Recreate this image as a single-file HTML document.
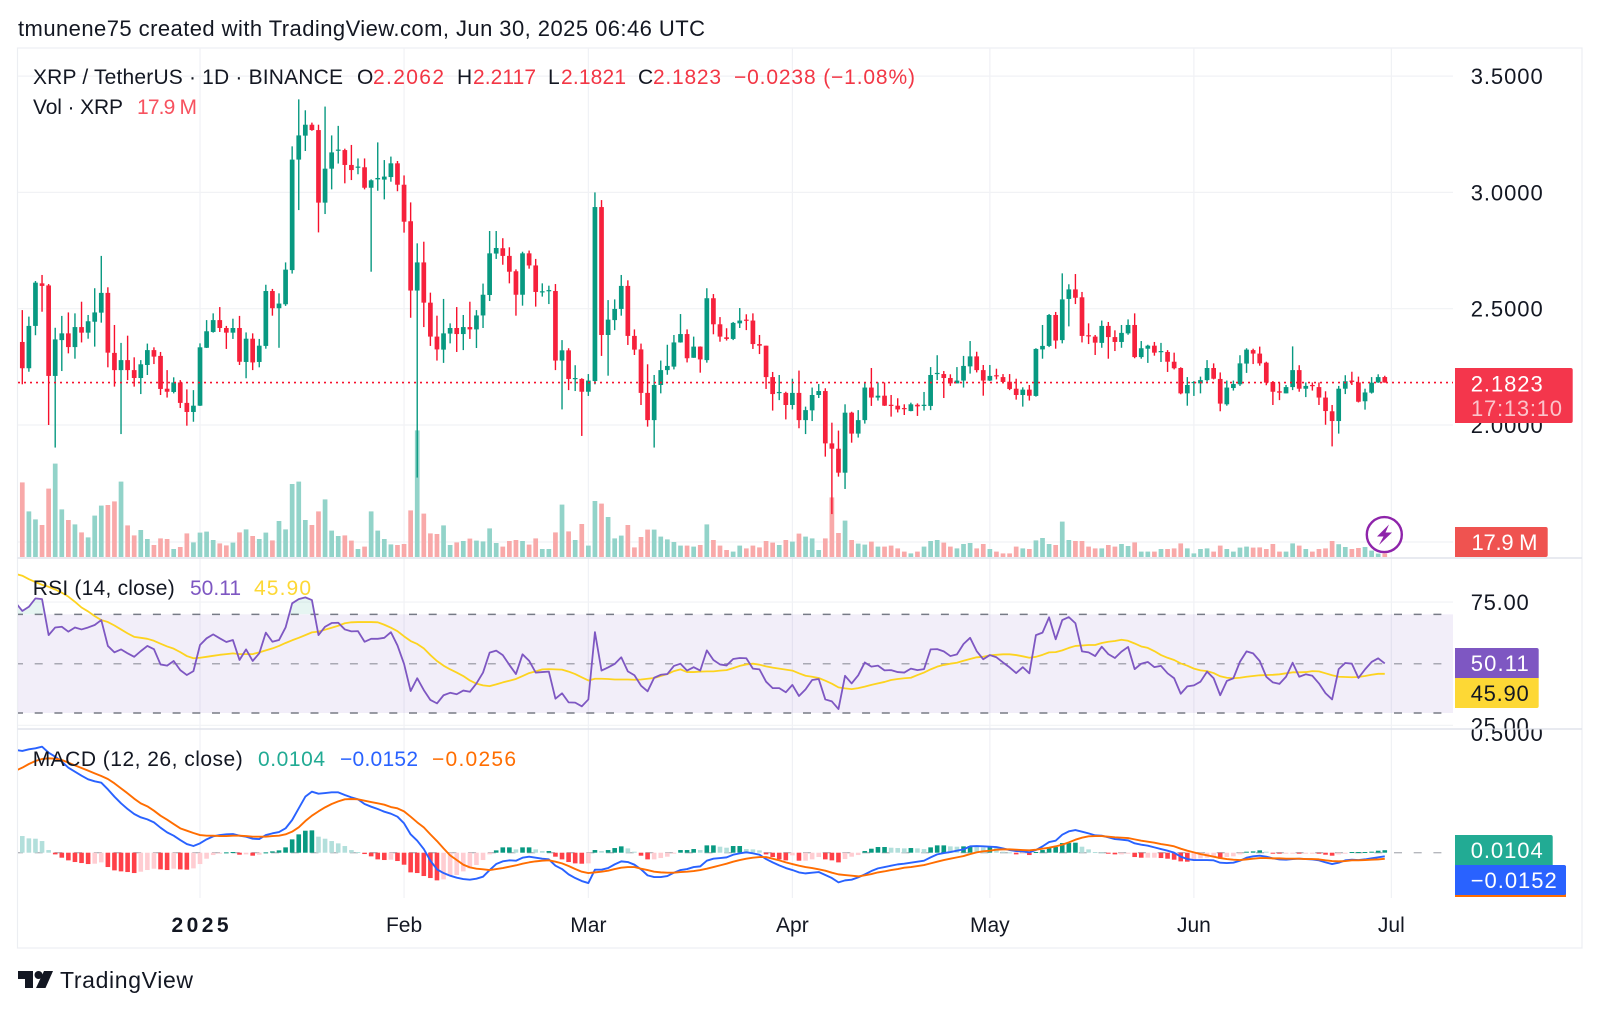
<!DOCTYPE html>
<html lang="en">
<head>
<meta charset="utf-8">
<title>XRP / TetherUS chart</title>
<style>
html,body{margin:0;padding:0;background:#fff;width:1600px;height:1011px;overflow:hidden}
svg{display:block}
text{font-family:"Liberation Sans",sans-serif;font-size:21px;fill:#131722}
.axis{font-size:22px}
.up{fill:#089981}
.down{fill:#f23645}
</style>
</head>
<body>
<svg id="chart" xmlns="http://www.w3.org/2000/svg" width="1600" height="1011" viewBox="0 0 1600 1011">
  <defs>
    <clipPath id="plotClip"><rect x="18" y="48" width="1435" height="850"/></clipPath>
    <clipPath id="overClip"><rect x="18" y="558" width="1435" height="56.3"/></clipPath>
    <clipPath id="rsiAxisClip"><rect x="1453" y="559" width="129" height="169.5"/></clipPath>
    <clipPath id="macdAxisClip"><rect x="1453" y="729.5" width="129" height="168"/></clipPath>
  </defs>
  <text x="18" y="36" textLength="687" lengthAdjust="spacing" style="font-size:22px">tmunene75 created with TradingView.com, Jun 30, 2025 06:46 UTC</text>
  <rect x="17.5" y="48" width="1564.5" height="900" fill="none" stroke="#eceef2" stroke-width="1.2"/>
  <g id="gridLayer"></g>
  <g id="bandLayer"></g>
  <g id="volumeLayer" clip-path="url(#plotClip)"></g>
  <g id="candleLayer" clip-path="url(#plotClip)"></g>
  <g id="rsiLayer" clip-path="url(#plotClip)"></g>
  <g id="macdLayer" clip-path="url(#plotClip)"></g>
  <g id="axisLayer"></g>

  <g>
    <text x="33" y="84" textLength="310" lengthAdjust="spacing">XRP / TetherUS · 1D · BINANCE</text>
    <text x="357" y="84">O</text>
    <text class="down" x="373" y="84" textLength="71">2.2062</text>
    <text x="457" y="84">H</text>
    <text class="down" x="473" y="84" textLength="63">2.2117</text>
    <text x="548" y="84">L</text>
    <text class="down" x="561" y="84" textLength="65">2.1821</text>
    <text x="638" y="84">C</text>
    <text class="down" x="653" y="84" textLength="68">2.1823</text>
    <text class="down" x="734" y="84" textLength="181">−0.0238 (−1.08%)</text>
    <text x="33" y="114" textLength="90">Vol · XRP</text>
    <text x="137" y="114" textLength="60" style="fill:#f7525f">17.9 M</text>
  </g>
  <g>
    <text x="32.7" y="595" textLength="142">RSI (14, close)</text>
    <text x="190" y="595" textLength="51" style="fill:#7e57c2">50.11</text>
    <text x="254" y="595" textLength="57" style="fill:#fdd835">45.90</text>
  </g>
  <g>
    <text x="32.7" y="766" textLength="210">MACD (12, 26, close)</text>
    <text x="258" y="766" textLength="67" style="fill:#22ab94">0.0104</text>
    <text x="340" y="766" textLength="78" style="fill:#2962ff">−0.0152</text>
    <text x="432" y="766" textLength="84" style="fill:#ff6d00">−0.0256</text>
  </g>

  <g>
    <path d="M1455 368H1570.7a2 2 0 0 1 2 2V421a2 2 0 0 1-2 2H1455Z" fill="#f4364c"/>
    <text class="axis" x="1470.7" y="391.5" textLength="72" style="fill:#fff">2.1823</text>
    <text class="axis" x="1471" y="416" textLength="91" style="fill:#fbc4cb">17:13:10</text>
    <path d="M1455 527H1545.7a2 2 0 0 1 2 2V555a2 2 0 0 1-2 2H1455Z" fill="#ef5350"/>
    <text class="axis" x="1471.5" y="550" textLength="66" style="fill:#fff">17.9 M</text>
    <path d="M1455 648H1536.7a2 2 0 0 1 2 2V678H1455Z" fill="#7e57c2"/>
    <text class="axis" x="1470.7" y="671" textLength="58" style="fill:#fff">50.11</text>
    <path d="M1455 678H1538.7V706a2 2 0 0 1-2 2H1455Z" fill="#fdd835"/>
    <text class="axis" x="1470.7" y="701" textLength="58">45.90</text>
    <rect x="1455" y="866" width="111" height="31" fill="#ff6d00"/>
    <path d="M1455 835H1550.7a2 2 0 0 1 2 2V865H1455Z" fill="#22ab94"/>
    <text class="axis" x="1470.7" y="858" textLength="72" style="fill:#fff">0.0104</text>
    <path d="M1455 865H1564a2 2 0 0 1 2 2V893a2 2 0 0 1-2 2H1455Z" fill="#2962ff"/>
    <text class="axis" x="1470.7" y="888" textLength="86" style="fill:#fff">−0.0152</text>
  </g>

  <g>
    <circle cx="1384.3" cy="534.6" r="17.5" fill="#fff" fill-opacity="0.6" stroke="#8e24aa" stroke-width="2.4"/>
    <path d="M1389 524.5L1377 536.5H1383.5L1379 545L1392 532.5H1385.5Z" fill="#8e24aa"/>
  </g>

  <g>
    <path d="M18 971H33V988H25V979H18Z" fill="#131722"/>
    <circle cx="38.5" cy="975" r="4" fill="#131722"/>
    <path d="M44 971H53L45.5 988H36Z" fill="#131722"/>
    <text x="60" y="988" textLength="133" style="font-size:23px">TradingView</text>
  </g>
</svg>

<script>
// ---------- Chart data ----------
const opens = [
2.357,2.244,2.426,2.609,2.600,2.211,2.365,2.394,2.335,2.421,
2.397,2.444,2.483,2.568,2.310,2.236,2.279,2.236,2.202,2.258,
2.322,2.297,2.156,2.142,2.183,2.095,2.056,2.083,2.332,2.400,
2.451,2.417,2.397,2.417,2.271,2.371,2.271,2.340,2.576,2.502,
2.519,2.666,3.141,3.244,3.291,3.268,2.956,3.102,3.179,3.182,
3.118,3.106,3.108,3.020,3.056,3.055,3.066,3.125,3.033,2.876,
2.578,2.699,2.526,2.380,2.324,2.393,2.417,2.391,2.421,2.411,
2.471,2.559,2.737,2.760,2.727,2.661,2.560,2.738,2.686,2.570,
2.576,2.576,2.277,2.321,2.198,2.198,2.143,2.189,2.937,2.387,
2.451,2.499,2.598,2.383,2.325,2.138,2.021,2.172,2.236,2.251,
2.355,2.391,2.289,2.337,2.279,2.545,2.433,2.377,2.370,2.437,
2.453,2.449,2.348,2.341,2.206,2.138,2.138,2.086,2.138,2.021,
2.063,2.129,2.146,1.921,1.898,1.795,2.053,1.963,2.021,2.161,
2.118,2.126,2.087,2.083,2.073,2.060,2.087,2.083,2.082,2.219,
2.219,2.202,2.179,2.191,2.252,2.295,2.236,2.191,2.214,2.206,
2.186,2.156,2.129,2.152,2.125,2.325,2.340,2.473,2.365,2.542,
2.583,2.549,2.386,2.380,2.353,2.426,2.378,2.357,2.394,2.430,
2.292,2.328,2.341,2.315,2.314,2.272,2.245,2.136,2.182,2.179,
2.193,2.245,2.198,2.089,2.159,2.175,2.264,2.322,2.307,2.268,
2.185,2.145,2.136,2.163,2.236,2.156,2.172,2.163,2.118,2.059,
2.017,2.156,2.191,2.183,2.102,2.139,2.183,2.2062];
const closes = [
2.244,2.426,2.612,2.598,2.211,2.368,2.394,2.335,2.421,2.397,
2.446,2.484,2.568,2.311,2.236,2.279,2.236,2.202,2.261,2.322,
2.294,2.155,2.143,2.183,2.095,2.056,2.083,2.334,2.403,2.451,
2.417,2.397,2.417,2.272,2.371,2.269,2.341,2.576,2.502,2.522,
2.668,3.141,3.245,3.291,3.268,2.956,3.102,3.172,3.184,3.118,
3.096,3.111,3.020,3.052,3.062,3.068,3.125,3.033,2.874,2.578,
2.699,2.526,2.380,2.325,2.394,2.417,2.391,2.421,2.411,2.471,
2.560,2.738,2.761,2.727,2.659,2.560,2.738,2.686,2.572,2.575,
2.580,2.277,2.321,2.198,2.202,2.143,2.191,2.937,2.387,2.453,
2.499,2.598,2.383,2.324,2.138,2.021,2.172,2.236,2.254,2.355,
2.391,2.287,2.337,2.282,2.545,2.433,2.380,2.370,2.439,2.449,
2.449,2.348,2.341,2.206,2.133,2.142,2.086,2.138,2.021,2.064,
2.129,2.146,1.921,1.898,1.795,2.053,1.963,2.021,2.161,2.118,
2.126,2.083,2.083,2.067,2.069,2.089,2.080,2.087,2.215,2.224,
2.202,2.179,2.191,2.254,2.295,2.236,2.191,2.211,2.209,2.185,
2.155,2.129,2.152,2.126,2.327,2.340,2.473,2.363,2.540,2.583,
2.547,2.383,2.383,2.354,2.426,2.378,2.357,2.396,2.430,2.292,
2.330,2.341,2.311,2.318,2.272,2.244,2.136,2.172,2.185,2.193,
2.245,2.199,2.092,2.161,2.176,2.265,2.324,2.307,2.265,2.182,
2.143,2.139,2.163,2.236,2.156,2.168,2.169,2.118,2.060,2.017,
2.156,2.188,2.185,2.100,2.140,2.182,2.206,2.1823];
const highs = [
2.494,2.466,2.619,2.645,2.606,2.418,2.469,2.484,2.480,2.530,
2.473,2.588,2.727,2.592,2.430,2.353,2.384,2.291,2.279,2.350,
2.334,2.314,2.236,2.205,2.193,2.153,2.150,2.351,2.451,2.480,
2.507,2.426,2.457,2.469,2.398,2.394,2.370,2.603,2.585,2.566,
2.699,3.198,3.400,3.353,3.300,3.291,3.369,3.245,3.286,3.188,
3.204,3.146,3.146,3.056,3.215,3.139,3.154,3.135,3.073,2.957,
2.781,2.788,2.569,2.470,2.542,2.437,2.507,2.473,2.530,2.494,
2.608,2.834,2.834,2.803,2.764,2.669,2.745,2.750,2.714,2.609,
2.599,2.606,2.365,2.330,2.257,2.201,2.219,3.000,2.967,2.537,
2.540,2.645,2.622,2.411,2.350,2.261,2.215,2.277,2.345,2.387,
2.477,2.411,2.380,2.338,2.588,2.563,2.464,2.416,2.443,2.503,
2.476,2.480,2.387,2.341,2.228,2.215,2.143,2.199,2.234,2.079,
2.161,2.176,2.158,2.010,1.976,2.089,2.057,2.064,2.183,2.245,
2.183,2.183,2.129,2.115,2.089,2.096,2.093,2.142,2.249,2.300,
2.232,2.218,2.249,2.297,2.361,2.315,2.258,2.258,2.242,2.219,
2.219,2.199,2.162,2.172,2.330,2.430,2.477,2.486,2.652,2.605,
2.649,2.572,2.437,2.387,2.449,2.443,2.407,2.430,2.454,2.480,
2.361,2.345,2.357,2.353,2.322,2.311,2.248,2.206,2.189,2.208,
2.279,2.265,2.226,2.191,2.191,2.300,2.330,2.328,2.337,2.272,
2.189,2.182,2.172,2.338,2.257,2.183,2.183,2.183,2.145,2.086,
2.168,2.214,2.229,2.208,2.156,2.206,2.218,2.2117];
const lows = [
2.175,2.229,2.386,2.487,2.000,1.903,2.232,2.308,2.285,2.355,
2.371,2.337,2.440,2.248,2.165,1.961,2.193,2.165,2.133,2.215,
2.262,2.129,2.118,2.136,2.073,1.997,2.014,2.082,2.331,2.397,
2.400,2.327,2.370,2.258,2.201,2.236,2.248,2.328,2.470,2.332,
2.512,2.651,2.924,3.178,3.265,2.828,2.907,3.013,3.124,3.039,
3.053,3.078,3.013,2.659,3.007,2.970,3.046,3.005,2.827,2.461,
1.774,2.421,2.340,2.277,2.267,2.351,2.314,2.322,2.370,2.331,
2.417,2.533,2.714,2.689,2.609,2.470,2.513,2.672,2.509,2.552,
2.520,2.236,2.067,2.150,2.146,1.953,2.125,2.175,2.297,2.212,
2.408,2.470,2.344,2.301,2.086,1.993,1.903,2.136,2.216,2.239,
2.354,2.269,2.289,2.225,2.268,2.390,2.358,2.363,2.365,2.417,
2.408,2.327,2.305,2.155,2.062,2.107,2.024,2.067,1.986,1.961,
2.017,2.116,1.864,1.617,1.778,1.725,1.924,1.946,2.006,2.082,
2.105,2.082,2.036,2.054,2.043,2.059,2.039,2.062,2.064,2.193,
2.116,2.168,2.179,2.161,2.221,2.226,2.126,2.189,2.196,2.179,
2.150,2.109,2.079,2.105,2.122,2.285,2.335,2.328,2.351,2.424,
2.520,2.355,2.348,2.301,2.332,2.285,2.318,2.332,2.388,2.287,
2.285,2.267,2.298,2.271,2.228,2.239,2.132,2.083,2.125,2.136,
2.186,2.196,2.059,2.083,2.148,2.168,2.224,2.262,2.255,2.171,
2.086,2.107,2.136,2.150,2.143,2.120,2.148,2.086,2.001,1.908,
1.963,2.133,2.172,2.097,2.066,2.135,2.181,2.1821];
// Volume, millions of XRP
const volumes = [
373,228,188,160,342,467,238,185,163,123,
98,207,257,260,278,377,158,108,135,90,
60,93,90,40,50,118,73,122,127,85,
68,58,72,123,138,105,90,122,83,180,
138,365,377,185,160,228,288,132,105,108,
82,40,52,228,132,90,63,60,65,233,
633,217,118,115,158,60,73,80,92,82,
78,143,70,52,80,85,80,62,93,40,
40,123,262,128,85,165,57,280,267,200,
93,107,160,48,100,137,137,102,88,75,
57,57,52,60,163,85,57,35,27,57,
43,57,48,80,72,60,85,77,117,102,
93,35,93,298,120,182,85,67,62,77,
52,52,57,43,27,18,27,52,80,85,
72,52,43,65,70,43,65,40,27,18,
18,52,43,40,83,95,65,60,177,85,
80,80,52,43,43,60,52,65,55,73,
27,27,27,40,40,43,68,43,18,40,
43,27,57,40,27,47,52,47,48,40,
65,27,27,68,57,40,27,40,43,80,
64,50,40,45,50,32,17,17.9];
// Indicator series: the first entry is the bar just before the visible window
const rsiValues = [74.7,
71.4,73.1,76.5,76.2,61.6,64.7,65.0,63.0,64.7,63.9,
64.7,65.7,67.7,57.2,54.6,55.8,54.2,52.8,55.1,57.2,
55.9,49.7,49.2,51.1,47.4,45.4,47.0,57.6,60.3,61.9,
60.3,58.8,59.6,51.5,55.8,51.1,54.2,62.6,58.9,59.6,
64.7,74.5,76.2,76.9,75.8,61.6,65.0,66.5,66.6,63.9,
63.1,63.2,58.9,60.1,60.1,60.5,62.8,57.4,49.9,38.9,
44.1,39.3,35.3,33.9,37.2,38.2,37.6,39.1,38.6,42.0,
46.4,54.5,55.3,53.5,49.5,45.8,53.8,51.2,46.4,46.6,
46.8,35.8,38.0,34.3,34.2,32.7,35.5,62.8,47.2,48.5,
49.9,52.6,46.9,45.3,41.1,38.8,44.3,45.5,45.8,49.1,
50.0,47.2,48.6,47.2,55.4,51.5,49.7,49.3,51.9,52.3,
52.2,48.0,47.7,42.7,40.1,40.1,38.4,41.4,36.9,39.6,
43.4,43.8,35.5,34.7,31.6,45.1,42.0,45.3,50.5,48.8,
49.2,47.3,47.4,46.6,46.4,48.0,47.4,47.8,55.8,55.9,
55.0,53.1,53.8,58.0,60.5,55.1,51.8,53.5,52.6,50.5,
48.5,46.2,48.6,46.1,61.6,62.6,68.8,59.9,67.7,68.9,
66.4,55.0,54.6,53.1,56.9,53.9,52.3,54.9,56.8,47.8,
50.0,50.7,48.6,49.1,46.1,44.1,37.8,40.8,41.2,42.7,
46.8,44.1,37.2,43.0,44.1,50.8,55.0,54.2,51.1,44.7,
42.4,41.8,44.7,50.4,44.7,45.7,45.1,42.0,38.0,35.5,
47.8,50.3,50.0,44.2,47.7,50.7,52.2,50.11];
const rsiMaValues = [86.4,
85.7,84.3,83.1,82.0,81.2,80.1,78.8,77.2,75.1,72.8,
71.2,69.3,67.7,66.9,65.5,63.9,62.3,60.9,60.5,60.1,
59.3,58.1,57.0,56.1,54.7,53.1,52.2,52.4,52.8,53.2,
53.6,53.9,54.2,53.9,53.9,53.9,54.6,55.4,56.2,57.2,
58.4,59.5,60.5,61.6,62.7,63.0,63.8,64.6,65.4,66.4,
66.8,66.9,66.9,66.9,66.8,65.8,64.6,63.2,61.1,59.2,
58.0,56.2,53.5,51.1,49.2,47.7,46.4,45.0,43.2,41.9,
41.2,40.9,41.6,42.4,43.1,43.8,45.0,46.2,46.9,47.7,
47.8,47.7,47.6,46.8,45.8,44.5,43.2,43.9,43.9,43.8,
43.6,43.6,43.6,43.5,43.6,43.9,44.2,45.0,45.8,47.0,
47.7,46.6,46.6,46.8,46.9,46.9,47.2,47.4,48.2,49.1,
49.7,50.0,49.6,48.9,48.4,48.0,47.6,47.2,46.1,45.1,
44.7,44.2,43.1,41.9,40.4,40.0,39.7,40.1,40.7,41.4,
42.0,42.6,43.4,43.8,44.1,44.3,45.4,46.4,47.7,48.8,
49.5,50.0,50.4,51.2,51.9,52.6,52.8,53.4,53.6,53.8,
53.8,53.5,53.0,52.4,52.8,53.6,54.6,54.7,55.4,56.4,
57.2,57.4,57.6,57.6,58.4,58.9,59.2,59.7,59.3,58.2,
57.0,56.4,55.1,53.5,52.4,51.5,50.1,49.2,48.0,47.3,
47.0,46.2,44.9,44.3,44.1,44.3,44.7,45.0,45.3,45.4,
45.5,45.7,46.1,46.5,46.5,46.6,47.0,46.9,46.1,45.3,
44.7,44.6,44.5,44.6,45.0,45.5,45.9,45.90];
const macdLine = [.4290,
.4249,.4318,.4360,.4430,.4179,.4012,.3803,.3552,.3385,.3218,
.3065,.2981,.2925,.2647,.2340,.2062,.1825,.1616,.1477,.1393,
.1268,.1045,.0850,.0710,.0529,.0362,.0279,.0390,.0557,.0683,
.0738,.0766,.0780,.0710,.0669,.0585,.0571,.0738,.0808,.0864,
.1017,.1365,.1853,.2340,.2549,.2466,.2493,.2521,.2521,.2410,
.2312,.2229,.2034,.1922,.1825,.1713,.1630,.1504,.1226,.0766,
.0501,.0153,-.0334,-.0696,-.0850,-.0961,-.1045,-.1100,-.1128,-.1087,
-.1003,-.0725,-.0474,-.0362,-.0320,-.0334,-.0209,-.0167,-.0209,-.0251,
-.0279,-.0543,-.0683,-.0905,-.1059,-.1184,-.1268,-.0710,-.0710,-.0641,
-.0488,-.0362,-.0390,-.0501,-.0696,-.0947,-.1017,-.1017,-.0975,-.0836,
-.0724,-.0683,-.0599,-.0571,-.0334,-.0251,-.0223,-.0195,-.0084,-.0028,
.0014,-.0028,-.0084,-.0265,-.0404,-.0529,-.0641,-.0724,-.0822,-.0864,
-.0836,-.0808,-.0933,-.1059,-.1240,-.1156,-.1128,-.1031,-.0905,-.0766,
-.0655,-.0599,-.0543,-.0488,-.0460,-.0418,-.0376,-.0334,-.0195,-.0070,
-.0014,.0028,.0084,.0139,.0265,.0279,.0265,.0251,.0237,.0181,
.0111,.0070,.0056,.0014,.0111,.0265,.0446,.0501,.0752,.0892,
.0947,.0878,.0808,.0724,.0710,.0641,.0571,.0543,.0515,.0390,
.0334,.0293,.0223,.0153,.0084,.0000,-.0167,-.0265,-.0306,-.0306,
-.0306,-.0320,-.0418,-.0432,-.0418,-.0334,-.0209,-.0153,-.0125,-.0167,
-.0237,-.0279,-.0293,-.0265,-.0251,-.0265,-.0279,-.0320,-.0404,-.0474,
-.0418,-.0320,-.0293,-.0306,-.0279,-.0237,-.0195,-.0152];
const macdSignal = [.3427,
.3552,.3705,.3831,.3914,.3942,.3928,.3873,.3761,.3650,.3538,
.3427,.3315,.3204,.3079,.2897,.2688,.2480,.2257,.2062,.1936,
.1755,.1546,.1379,.1198,.1017,.0919,.0822,.0738,.0710,.0710,
.0696,.0696,.0710,.0710,.0696,.0669,.0669,.0669,.0696,.0710,
.0766,.0878,.1059,.1323,.1546,.1727,.1894,.2034,.2145,.2229,
.2243,.2229,.2173,.2117,.2062,.2006,.1908,.1853,.1727,.1504,
.1268,.1059,.0766,.0488,.0181,-.0111,-.0306,-.0501,-.0613,-.0669,
-.0696,-.0724,-.0683,-.0641,-.0585,-.0529,-.0460,-.0404,-.0362,-.0334,
-.0320,-.0376,-.0446,-.0557,-.0683,-.0794,-.0850,-.0822,-.0794,-.0752,
-.0683,-.0627,-.0599,-.0599,-.0669,-.0724,-.0794,-.0822,-.0836,-.0836,
-.0808,-.0794,-.0766,-.0724,-.0669,-.0599,-.0529,-.0460,-.0376,-.0306,
-.0251,-.0209,-.0181,-.0181,-.0251,-.0320,-.0404,-.0474,-.0543,-.0599,
-.0641,-.0696,-.0752,-.0836,-.0905,-.0933,-.0961,-.0989,-.0947,-.0892,
-.0822,-.0780,-.0724,-.0683,-.0627,-.0599,-.0557,-.0515,-.0446,-.0376,
-.0306,-.0251,-.0195,-.0139,-.0056,.0014,.0056,.0084,.0125,.0139,
.0139,.0125,.0111,.0098,.0125,.0167,.0209,.0265,.0334,.0432,
.0543,.0627,.0683,.0696,.0696,.0669,.0641,.0627,.0613,.0557,
.0501,.0460,.0418,.0362,.0320,.0265,.0167,.0084,.0014,-.0056,
-.0111,-.0167,-.0223,-.0265,-.0293,-.0306,-.0279,-.0251,-.0223,-.0223,
-.0237,-.0237,-.0251,-.0251,-.0251,-.0265,-.0265,-.0279,-.0320,-.0348,
-.0362,-.0348,-.0320,-.0320,-.0306,-.0293,-.0279,-.0256];
const macdHistogram = [
.0696,.0599,.0585,.0487,.0111,-.0070,-.0209,-.0320,-.0390,-.0432,
-.0474,-.0460,-.0404,-.0599,-.0738,-.0780,-.0808,-.0850,-.0794,-.0724,
-.0669,-.0696,-.0724,-.0669,-.0696,-.0710,-.0655,-.0474,-.0251,-.0098,
-.0014,.0014,.0028,-.0084,-.0070,-.0125,-.0084,.0014,.0056,.0098,
.0223,.0557,.0766,.0919,.0933,.0669,.0585,.0487,.0390,.0279,
.0111,.0028,-.0056,-.0153,-.0279,-.0306,-.0292,-.0348,-.0501,-.0822,
-.0850,-.0975,-.1059,-.1156,-.1114,-.0975,-.0933,-.0780,-.0655,-.0515,
-.0306,-.0070,.0098,.0223,.0223,.0139,.0223,.0223,.0139,.0070,
.0070,-.0167,-.0279,-.0390,-.0446,-.0460,-.0446,.0111,.0070,.0111,
.0195,.0265,.0181,.0042,-.0125,-.0279,-.0279,-.0223,-.0167,-.0014,
.0111,.0111,.0153,.0111,.0306,.0306,.0251,.0209,.0279,.0279,
.0153,.0139,.0098,-.0070,-.0181,-.0279,-.0320,-.0111,-.0334,-.0334,
-.0279,-.0181,-.0279,-.0320,-.0404,-.0265,-.0167,-.0098,.0070,.0167,
.0237,.0237,.0209,.0195,.0181,.0195,.0181,.0153,.0223,.0306,
.0306,.0265,.0251,.0265,.0279,.0237,.0223,.0223,.0209,.0042,
.0014,-.0070,-.0014,-.0098,.0028,.0111,.0209,.0237,.0404,.0404,
.0418,.0251,.0139,.0028,.0014,-.0042,-.0070,-.0070,-.0042,-.0181,
-.0209,-.0209,-.0209,-.0223,-.0251,-.0293,-.0362,-.0376,-.0306,-.0237,
-.0209,-.0167,-.0251,-.0181,-.0153,-.0070,.0042,.0056,.0098,.0042,
-.0014,-.0042,-.0042,-.0014,-.0042,-.0042,-.0028,-.0042,-.0084,-.0125,
-.0070,-.0014,.0028,.0028,.0028,.0042,.0084,.0104];
const lastPrice = 2.1823;
const priceTicks = [3.5, 3, 2.5, 2];
const priceTickLabels = ["3.5000", "3.0000", "2.5000", "2.0000"];
const rsiTicks = [75, 25];
const rsiTickLabels = ["75.00", "25.00"];
const macdTicks = [0.5];
const macdTickLabels = ["0.5000"];
const volumeGridTicks = [75];
const rsiBands = [70, 50, 30];
const monthBars = [27, 58, 86, 117, 147, 178, 208];
const monthLabels = ["2025", "Feb", "Mar", "Apr", "May", "Jun", "Jul"];

// ---------- Axis functions ----------
const xOf = i => 22.3 + 6.582 * i;
const yPrice = p => 425 - (p - 2) * 232.6;
const yVolume = v => 557 - v / 5;
const yRsi = r => 663.7 - (r - 50) * 2.465;
const yMacd = m => 852.7 - m * 239.4;

const NS = "http://www.w3.org/2000/svg";
const mk = (tag, attrs, parent) => {
  const el = document.createElementNS(NS, tag);
  for (const k in attrs) el.setAttribute(k, attrs[k]);
  parent.appendChild(el);
  return el;
};
const gridLayer = document.getElementById("gridLayer");
const bandLayer = document.getElementById("bandLayer");
const volumeLayer = document.getElementById("volumeLayer");
const candleLayer = document.getElementById("candleLayer");
const rsiLayer = document.getElementById("rsiLayer");
const macdLayer = document.getElementById("macdLayer");
const axisLayer = document.getElementById("axisLayer");
const PLOT_L = 18, PLOT_R = 1453, GRID = "#f1f2f5";

// Vertical month grid and time-axis labels
monthBars.forEach((bar, k) => {
  const x = xOf(bar);
  const line = mk("line", {x1: x, x2: x, y1: 48, y2: 898, stroke: "#f0f1f5", "stroke-width": 1.2}, gridLayer);
  
  
  const label = mk("text", {x: x, y: 932, "text-anchor": "middle"}, axisLayer);
  
  
  label.textContent = monthLabels[k];
  if (monthLabels[k] === "2025") {
    label.setAttribute("font-weight", "bold");
    label.setAttribute("textLength", "57");
  }
});

// Horizontal grid and price-scale labels
priceTicks.forEach((t, k) => {
  const y = yPrice(t);
  const line = mk("line", {x1: PLOT_L, x2: PLOT_R, y1: y, y2: y, stroke: GRID, "stroke-width": 1.2}, gridLayer);
  
  
  const label = mk("text", {class: "axis", x: 1470.7, y: y + 8, textLength: 72}, axisLayer);
  
  
  label.textContent = priceTickLabels[k];
});
volumeGridTicks.forEach(t => {
  const y = yVolume(t);
  const line = mk("line", {x1: PLOT_L, x2: PLOT_R, y1: y, y2: y, stroke: GRID, "stroke-width": 1.2}, gridLayer);
  
  
});
rsiTicks.forEach((t, k) => {
  const y = yRsi(t);
  const line = mk("line", {x1: PLOT_L, x2: PLOT_R, y1: y, y2: y, stroke: GRID, "stroke-width": 1.2}, gridLayer);
  
  
  const label = mk("text", {class: "axis", x: 1470.7, y: y + 8, textLength: 58, "clip-path": "url(#rsiAxisClip)"}, axisLayer);
  
  
  label.textContent = rsiTickLabels[k];
});
macdTicks.forEach((t, k) => {
  const y = yMacd(t);
  const label = mk("text", {class: "axis", x: 1470.7, y: y + 8, textLength: 72, "clip-path": "url(#macdAxisClip)"}, axisLayer);
  
  
  label.textContent = macdTickLabels[k];
});

// Pane separators
[558, 729].forEach(y => {
  const sep = mk("line", {x1: 17.5, x2: 1582, y1: y, y2: y, stroke: "#e0e3eb", "stroke-width": 1.6}, gridLayer);
  
  
});

// Volume bars
volumes.forEach((v, i) => {
  const up = closes[i] >= opens[i];
  const y = yVolume(v);
  const bar = mk("rect", {x: xOf(i) - 2.35, y: y, width: 4.7, height: 557 - y, fill: up ? "#92d3c9" : "#f8a9a9"}, volumeLayer);
  
  
});

// Candles
opens.forEach((o, i) => {
  const c = closes[i];
  const up = c >= o;
  const x = xOf(i);
  const wick = mk("rect", {x: x - 0.7, y: yPrice(highs[i]), width: 1.4, height: yPrice(lows[i]) - yPrice(highs[i]), fill: up ? "#089981" : "#f7102c"}, candleLayer);
  
  
  const top = yPrice(Math.max(o, c));
  const h = Math.max(1.2, yPrice(Math.min(o, c)) - top);
  const body = mk("rect", {x: x - 2.35, y: top, width: 4.7, height: h, fill: up ? "#089981" : "#f6213c"}, candleLayer);
  
  
});

// Last price line
const priceLine = mk("line", {x1: PLOT_L, x2: PLOT_R, y1: yPrice(lastPrice), y2: yPrice(lastPrice), stroke: "#f7102c", "stroke-width": 1.6, "stroke-dasharray": "2 4"}, candleLayer);



// RSI band and reference levels
const bandRect = mk("rect", {x: PLOT_L, y: yRsi(rsiBands[0]), width: PLOT_R - PLOT_L, height: yRsi(rsiBands[2]) - yRsi(rsiBands[0]), fill: "#7e57c2", "fill-opacity": 0.1}, bandLayer);


rsiBands.forEach(level => {
  const mid = level === 50;
  const line = mk("line", {x1: PLOT_L, x2: PLOT_R, y1: yRsi(level), y2: yRsi(level), stroke: "#787b86", "stroke-opacity": mid ? 0.6 : 1, "stroke-width": 1.5, "stroke-dasharray": "8 11.7", "stroke-dashoffset": 3}, bandLayer);
  
  
});

const seriesPoints = (vals, yFn) => vals.map((v, k) => xOf(k - 1).toFixed(2) + "," + yFn(v).toFixed(2));

// RSI overbought fill, then lines
const overFill = mk("polygon", {points: xOf(-1) + "," + yRsi(70) + " " + seriesPoints(rsiValues, yRsi).join(" ") + " " + xOf(207) + "," + yRsi(70), fill: "#089981", "fill-opacity": 0.1, "clip-path": "url(#overClip)"}, rsiLayer);


const rsiMaPath = mk("polyline", {points: seriesPoints(rsiMaValues, yRsi).join(" "), fill: "none", stroke: "#fdd31f", "stroke-width": 1.8, "stroke-linejoin": "round"}, rsiLayer);


const rsiPath = mk("polyline", {points: seriesPoints(rsiValues, yRsi).join(" "), fill: "none", stroke: "#7e57c2", "stroke-width": 1.8, "stroke-linejoin": "round"}, rsiLayer);



// MACD zero line, histogram, lines
const zeroLine = mk("line", {x1: PLOT_L, x2: PLOT_R, y1: yMacd(0), y2: yMacd(0), stroke: "#787b86", "stroke-opacity": 0.55, "stroke-width": 1.3, "stroke-dasharray": "8 11.7", "stroke-dashoffset": 3}, macdLayer);


macdHistogram.forEach((v, i) => {
  const prev = i > 0 ? macdHistogram[i - 1] : v + 1;
  let fill;
  if (v >= 0) fill = v >= prev ? "#089981" : "#b2dfdb";
  else fill = v < prev ? "#ff4048" : "#ffcdd2";
  const y0 = yMacd(0), y1 = yMacd(v);
  const bar = mk("rect", {x: xOf(i) - 2.3, y: Math.min(y0, y1), width: 4.6, height: Math.max(1, Math.abs(y1 - y0)), fill: fill}, macdLayer);
  
  
});
const macdPath = mk("polyline", {points: seriesPoints(macdLine, yMacd).join(" "), fill: "none", stroke: "#2962ff", "stroke-width": 1.9, "stroke-linejoin": "round"}, macdLayer);


const signalPath = mk("polyline", {points: seriesPoints(macdSignal, yMacd).join(" "), fill: "none", stroke: "#ff6d00", "stroke-width": 1.9, "stroke-linejoin": "round"}, macdLayer);


</script>
</body>
</html>
